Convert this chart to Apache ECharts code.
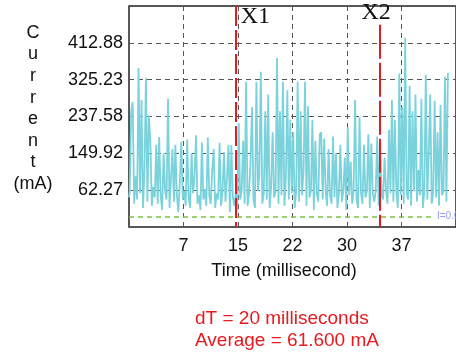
<!DOCTYPE html>
<html>
<head>
<meta charset="utf-8">
<script src="https://cdn.jsdelivr.net/npm/echarts@6/dist/echarts.min.js"></script>
<style>
  html, body { margin: 0; padding: 0; background: #fff; }
  #chart { width: 456px; height: 356px; }
</style>
</head>
<body>
<div id="chart"></div>
<script>
// sample spacing (ms) and current samples (mA)
const sampleStep = 0.2;
const current = [
  45, 60, 249, 272, 30, 95, 40, 353, 55, 277,
  20, 110, 330, 35, 240, 180, 25, 70, 45, 170,
  30, 189, 50, 15, 150, 60, 40, 280, 20, 90,
  160, 35, 170, 50, 10, 80, 178, 40, 60, 25,
  183, 45, 20, 150, 55, 95, 193, 30, 50, 15,
  176, 40, 65, 25, 188, 50, 30, 110, 160, 20,
  55, 40, 175, 25, 60, 153, 35, 90, 170, 10,
  170, 45, 25, 55, 15, 222, 40, 60, 180, 30,
  320, 25, 55, 130, 260, 40, 20, 320, 60, 100,
  344, 30, 55, 250, 40, 290, 20, 70, 200, 45,
  60, 377, 30, 250, 50, 320, 25, 90, 300, 40,
  230, 55, 200, 20, 60, 320, 35, 250, 50, 110,
  320, 25, 262, 45, 60, 230, 15, 180, 55, 35,
  195, 200, 40, 185, 60, 25, 160, 50, 30, 190,
  45, 150, 20, 55, 170, 35, 60, 140, 15, 212,
  50, 130, 30, 60, 277, 40, 20, 236, 55, 30,
  170, 45, 60, 195, 20, 173, 55, 35, 60, 190,
  25, 175, 50, 40, 140, 60, 30, 206, 55, 277,
  35, 230, 60, 20, 340, 50, 260, 30, 425, 55,
  40, 310, 25, 250, 60, 290, 35, 110, 50, 280,
  20, 60, 337, 40, 150, 290, 30, 55, 275, 45,
  200, 25, 265, 50, 60, 332, 35, 340
];

// axis setup
const xMin = 0, xMax = 44.4, xStep = 7.4;
const yMin = -25.3825, yStep = 87.6525, yMax = yMin + 6 * yStep;

// cursors and zero line
const cursorX1 = 14.5;
const cursorX2 = 34.1;
const cursorX2Top = 455.8;
const zeroLineEnd = 41.0;
const dT = "dT = 20 milliseconds";
const average = "Average = 61.600 mA";

const seriesData = current.map(function (v, i) {
  return [+(i * sampleStep).toFixed(2), v];
});

const chart = echarts.init(document.getElementById("chart"));
const font = "'Liberation Sans', Arial, sans-serif";

const option = {
  animation: false,
  grid: {
    left: 129,
    top: 6,
    right: -4.5,
    bottom: 129,
    show: true,
    borderColor: "#222",
    borderWidth: 1.5,
  },
  xAxis: {
    type: "value",
    min: xMin,
    max: xMax,
    interval: xStep,
    axisLine: { show: false },
    axisTick: { show: false },
    axisLabel: {
      showMinLabel: false,
      showMaxLabel: false,
      margin: 10,
      color: "#111",
      fontFamily: font,
      fontSize: 18,
      formatter: function (v) { return Math.round(v); },
    },
    splitLine: { lineStyle: { color: "#555", type: [5, 4], width: 1 } },
    name: "Time (millisecond)",
    nameLocation: "middle",
    nameGap: 35,
    nameTextStyle: { color: "#111", fontFamily: font, fontSize: 18, padding: [0, 17, 0, 0] },
  },
  yAxis: {
    type: "value",
    min: yMin,
    max: yMax,
    interval: yStep,
    axisLine: { show: false },
    axisTick: { show: false },
    axisLabel: {
      showMinLabel: false,
      showMaxLabel: false,
      margin: 6,
      color: "#111",
      fontFamily: font,
      fontSize: 18,
      formatter: function (v) { return (Math.round(v * 100 + 1e-6) / 100).toFixed(2); },
    },
    splitLine: { lineStyle: { color: "#555", type: [5, 4], width: 1 } },
  },
  series: [
    {
      type: "line",
      step: "middle",
      data: seriesData,
      showSymbol: false,
      lineStyle: { color: "#7ad3dc", width: 1.8 },
      silent: true,
      markLine: {
        silent: true,
        symbol: ["none", "none"],
        data: [
          [
            { coord: [xMin, 0], lineStyle: { color: "#7cc242", width: 1.5, type: [5, 4] },
              label: { show: true, position: "end", distance: 6, formatter: "I=0.000 mA",
                color: "#9a9af2", fontSize: 10, fontFamily: font } },
            { coord: [zeroLineEnd, 0] },
          ],
          [
            { coord: [cursorX1, yMax], lineStyle: { color: "#e31b23", width: 2, type: [20, 4] },
              label: { show: false } },
            { coord: [cursorX1, yMin] },
          ],
          [
            { coord: [cursorX2, cursorX2Top], lineStyle: { color: "#e31b23", width: 2, type: [34, 4] },
              label: { show: false } },
            { coord: [cursorX2, yMin] },
          ],
        ],
      },
    },
  ],
};

chart.setOption(option);

const p1 = chart.convertToPixel({ gridIndex: 0 }, [cursorX1, yMax]);
const p2 = chart.convertToPixel({ gridIndex: 0 }, [cursorX2, yMax]);

chart.setOption({
  graphic: [
    {
      type: "text",
      x: 33, y: 108.5,
      style: {
        text: "C\nu\nr\nr\ne\nn\nt\n(mA)",
        font: "18px " + font,
        fill: "#111",
        align: "center",
        verticalAlign: "middle",
        lineHeight: 21.6,
      },
    },
    {
      type: "text",
      x: p1[0] + 5, y: 17,
      style: { text: "X1", font: "24px 'Liberation Serif', 'Times New Roman', serif",
        fill: "#111", align: "left", verticalAlign: "middle" },
    },
    {
      type: "text",
      x: p2[0] - 4, y: 13,
      style: { text: "X2", font: "24px 'Liberation Serif', 'Times New Roman', serif",
        fill: "#111", align: "center", verticalAlign: "middle" },
    },
    {
      type: "text",
      x: 195, y: 318.5,
      style: { text: dT, font: "19px " + font, fill: "#e8191f", align: "left", verticalAlign: "middle" },
    },
    {
      type: "text",
      x: 195, y: 340.5,
      style: { text: average, font: "19px " + font, fill: "#e8191f", align: "left", verticalAlign: "middle" },
    },
  ],
});
</script>
</body>
</html>
